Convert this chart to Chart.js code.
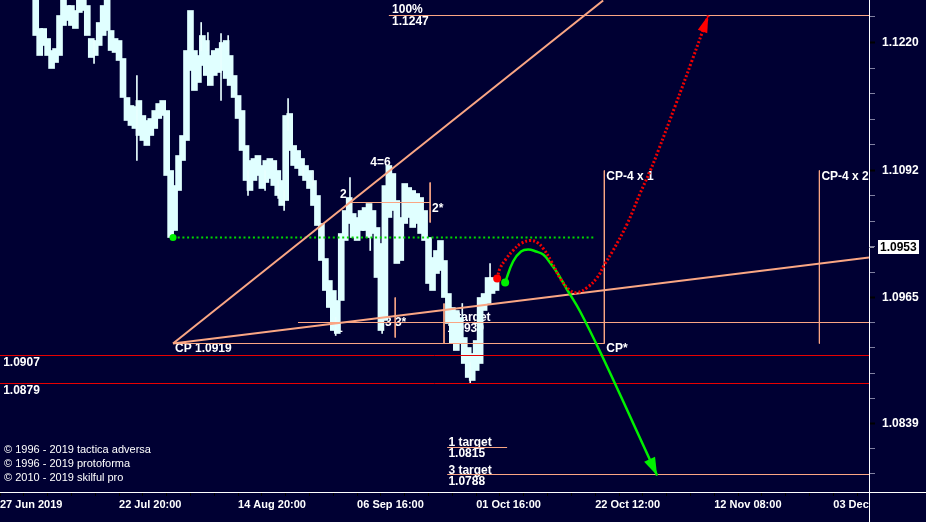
<!DOCTYPE html>
<html>
<head>
<meta charset="utf-8">
<script src="https://cdn.jsdelivr.net/npm/chart.js@4.4.1/dist/chart.umd.min.js"></script>
<style>
  html, body { margin: 0; padding: 0; background: #000033; }
  canvas { display: block; }
</style>
</head>
<body>
<canvas id="chart" width="926" height="522"></canvas>
<script>
// x axis counts 4h bars from 27 Jun, a date label every 30 bars
const xLabels = ['27 Jun 2019', '22 Jul 20:00', '14 Aug 20:00', '06 Sep 16:00',
                 '01 Oct 16:00', '22 Oct 12:00', '12 Nov 08:00', '03 Dec 04:00'];
const yLabels = ['1.1220', '1.1092', '1.0965', '1.0839'];

// EURUSD bars, first one is bar 9
const barStart = 9;
const barHigh = [
  1.1267, 1.1234, 1.1234, 1.1224, 1.1212, 1.1214, 1.1247, 1.1265, 1.1257, 1.1257,
  1.1252, 1.1265, 1.1265, 1.1257, 1.1224, 1.1222, 1.1240, 1.1257, 1.1265, 1.1232,
  1.1224, 1.1222, 1.1204, 1.1165, 1.1157, 1.1156, 1.1162, 1.1147, 1.1142, 1.1144,
  1.1152, 1.1159, 1.1162, 1.1152, 1.1092, 1.1077, 1.1107, 1.1127, 1.1212, 1.1252,
  1.1212, 1.1207, 1.1227, 1.1222, 1.1207, 1.1212, 1.1214, 1.1220, 1.1222, 1.1207,
  1.1187, 1.1167, 1.1152, 1.1117, 1.1102, 1.1104, 1.1107, 1.1097, 1.1102, 1.1104,
  1.1102, 1.1092, 1.1082, 1.1147, 1.1149, 1.1117, 1.1112, 1.1104, 1.1097, 1.1092,
  1.1082, 1.1067, 1.1039, 1.1004, 1.0982, 1.0972, 1.0962, 1.1029, 1.1052, 1.1065,
  1.1049, 1.1045, 1.1052, 1.1055, 1.1059, 1.1052, 1.1035, 1.1019, 1.1077, 1.1097,
  1.1089, 1.1062, 1.1045, 1.1079, 1.1075, 1.1072, 1.1069, 1.1065, 1.1052, 1.1025,
  1.1005, 1.1012, 1.1022, 1.1002, 1.0969, 1.0955, 1.0952, 1.0945, 1.0925, 1.0915,
  1.0909, 1.0922, 1.0965, 1.0969, 1.0985, 1.0985, 1.0982
];
const barLow = [
  1.1227, 1.1207, 1.1217, 1.1207, 1.1194, 1.1200, 1.1207, 1.1237, 1.1242, 1.1237,
  1.1234, 1.1250, 1.1252, 1.1227, 1.1205, 1.1207, 1.1217, 1.1227, 1.1232, 1.1212,
  1.1210, 1.1202, 1.1165, 1.1142, 1.1137, 1.1134, 1.1127, 1.1122, 1.1117, 1.1127,
  1.1134, 1.1144, 1.1147, 1.1087, 1.1025, 1.1032, 1.1072, 1.1102, 1.1122, 1.1192,
  1.1172, 1.1180, 1.1197, 1.1187, 1.1177, 1.1187, 1.1190, 1.1192, 1.1184, 1.1177,
  1.1165, 1.1144, 1.1112, 1.1082, 1.1072, 1.1082, 1.1087, 1.1074, 1.1080, 1.1084,
  1.1077, 1.1067, 1.1057, 1.1062, 1.1112, 1.1097, 1.1094, 1.1087, 1.1082, 1.1074,
  1.1057, 1.1037, 1.1002, 1.0972, 1.0955, 1.0932, 1.0929, 1.0962, 1.1022, 1.1039,
  1.1025, 1.1022, 1.1032, 1.1032, 1.1025, 1.1029, 1.0985, 1.0932, 1.0942, 1.1045,
  1.1052, 1.0999, 1.1002, 1.1039, 1.1045, 1.1035, 1.1039, 1.1029, 1.1022, 1.0979,
  1.0972, 1.0989, 1.0992, 1.0965, 1.0939, 1.0919, 1.0912, 1.0919, 1.0899, 1.0885,
  1.0882, 1.0892, 1.0899, 1.0952, 1.0959, 1.0969, 1.0972
];

// thin spikes sticking out of the bodies
const wickAt   = [23.7, 34.5, 50.7, 52.4, 55.7, 57.5, 62.5, 66.8, 70.1, 71.6,
                  72.6, 76.4, 78.9, 84.6, 88.2, 93.3, 96.3, 116.5, 118.5, 123.5];
const wickHigh = [1.1222, 1.1187, 1.1240, 1.1230, 1.1229, 1.1227, 1.1092, 1.1092, 1.1082, 1.1072,
                  1.1164, 1.1099, 1.1092, 1.0945, 1.1085, 1.1032, 1.0942, 1.0959, 1.0900, 1.0999];
const wickLow  = [1.1199, 1.1102, 1.1212, 1.1212, 1.1162, 1.1212, 1.1067, 1.1072, 1.1064, 1.1052,
                  1.1132, 1.1087, 1.1077, 1.0927, 1.1062, 1.1012, 1.0929, 1.0945, 1.0879, 1.0982];

// construction lines: [bar1, price1, bar2, price2]
const trendLines = [
  [43.6, 1.0919, 152, 1.1262],
  [43.6, 1.0919, 219, 1.1005]
];
// horizontal levels: [fromBar, toBar, price]
const levelLines = [
  [98, 219, 1.1247],
  [43.6, 152.3, 1.0919],
  [88.2, 108.4, 1.1060],
  [75.1, 219, 1.0940],
  [112.7, 127.8, 1.0815],
  [112.7, 219, 1.0788]
];
// vertical marks: [bar, fromPrice, toPrice]
const markLines = [
  [108.4, 1.1080, 1.1040],
  [99.6, 1.0965, 1.0925],
  [111.9, 1.0959, 1.0919],
  [152.3, 1.1092, 1.0919],
  [206.5, 1.1092, 1.0919]
];
const redLevels = [1.0907, 1.0879];
const greenLevel = [43.6, 150, 1.1025];

// projected paths
const greenBars   = [127.3, 129.3, 131.3, 133.1, 135.1, 136.9, 138.6, 140.4, 142.9, 146.2, 151.8, 159.6, 165.6];
const greenPrices = [1.0980, 1.1001, 1.1011, 1.1013, 1.1011, 1.1008, 1.1000, 1.0990, 1.0973, 1.0951, 1.0906, 1.0839, 1.0787];
const redBars   = [125.3, 126.0, 127.6, 129.3, 131.3, 133.6, 135.4, 136.9, 139.1, 141.2, 143.7, 145.5,
                   148.0, 150.5, 152.5, 154.5, 158.1, 161.3, 163.9, 165.9, 170.2, 174.4, 178.5];
const redPrices = [1.0984, 1.0994, 1.1004, 1.1012, 1.1019, 1.1022, 1.1020, 1.1014, 1.1000, 1.0984, 1.0972, 1.0970,
                   1.0975, 1.0985, 1.0999, 1.1012, 1.1039, 1.1069, 1.1092, 1.1112, 1.1157, 1.1202, 1.1247];

// chart notes: [text, bar, price]
const notes = [
  ['100%', 98.8, 1.12525], ['1.1247', 98.8, 1.12405],
  ['4=6', 93.3, 1.1100], ['2', 85.7, 1.10675], ['2*', 108.9, 1.1054],
  ['1', 84.7, 1.0934], ['3 3*', 97.0, 1.0940],
  ['2 target', 112.7, 1.0945], ['1.0939', 112.7, 1.0934],
  ['CP 1.0919', 44.1, 1.0914], ['CP*', 152.8, 1.0914],
  ['CP-4 x 1', 152.8, 1.1086], ['CP-4 x 2', 207, 1.1086],
  ['1.0907', 0.8, 1.0900], ['1.0879', 0.8, 1.0872],
  ['1 target', 113, 1.08195], ['1.0815', 113, 1.0809],
  ['3 target', 113, 1.0792], ['1.0788', 113, 1.07805]
];
const credits = ['© 1996 - 2019 tactica adversa', '© 1996 - 2019 protoforma', '© 2010 - 2019 skilful pro'];
const lastPrice = '1.0953';
const lastPriceAt = 1.1016;

const BG = '#000033';
const SALMON = '#FAA684';
const FONT = '"Liberation Sans", Arial, sans-serif';

function lineSet(points, color, width, dash) {
  return {
    type: 'line', data: points, borderColor: color, borderWidth: width,
    borderDash: dash || [], pointRadius: 0, tension: 0, fill: false, order: 1
  };
}

const datasets = [];
datasets.push({
  type: 'bar', order: 5, grouped: false, barThickness: 6,
  backgroundColor: '#E0FFFF',
  data: barHigh.map((h, k) => ({ x: barStart + k, y: [barLow[k], h] }))
});
datasets.push({
  type: 'bar', order: 4, grouped: false, barThickness: 1,
  backgroundColor: '#E8FFFF',
  data: wickAt.map((x, k) => ({ x: x, y: [wickLow[k], wickHigh[k]] }))
});
redLevels.forEach(p => datasets.push(lineSet([{ x: 0, y: p }, { x: 219, y: p }], '#E80000', 1)));
trendLines.forEach(t => datasets.push(lineSet([{ x: t[0], y: t[1] }, { x: t[2], y: t[3] }], SALMON, 2)));
levelLines.forEach(l => datasets.push(lineSet([{ x: l[0], y: l[2] }, { x: l[1], y: l[2] }], SALMON, 1)));
markLines.forEach(m => datasets.push(lineSet([{ x: m[0], y: m[1] }, { x: m[0], y: m[2] }], SALMON, 1)));
datasets.push(lineSet([{ x: greenLevel[0], y: greenLevel[2] }, { x: greenLevel[1], y: greenLevel[2] }], '#00D800', 2, [2, 2.7]));
datasets.push({
  type: 'line', order: 0, showLine: false, pointRadius: 3.5, pointBorderWidth: 0,
  pointBackgroundColor: '#00F000', data: [{ x: greenLevel[0], y: greenLevel[2] }]
});

const redIndex = datasets.length;
datasets.push({
  type: 'line', order: 0, borderColor: '#F00000', borderWidth: 3, borderDash: [2, 2],
  tension: 0.4, fill: false, pointBorderWidth: 0, pointBackgroundColor: '#FF0000',
  pointRadius: c => c.dataIndex === 0 ? 4 : 0,
  data: redBars.map((x, k) => ({ x: x, y: redPrices[k] }))
});
const greenIndex = datasets.length;
datasets.push({
  type: 'line', order: 0, borderColor: '#00F000', borderWidth: 2.5,
  tension: 0.4, fill: false, pointBorderWidth: 0, pointBackgroundColor: '#00F000',
  pointRadius: c => c.dataIndex === 0 ? 4 : 0,
  data: greenBars.map((x, k) => ({ x: x, y: greenPrices[k] }))
});

function arrowHead(ctx, from, tip, len, half, color) {
  const dx = tip.x - from.x, dy = tip.y - from.y, d = Math.hypot(dx, dy);
  const ux = dx / d, uy = dy / d;
  const bx = tip.x - ux * len, by = tip.y - uy * len;
  ctx.beginPath();
  ctx.moveTo(tip.x, tip.y);
  ctx.lineTo(bx - uy * half, by + ux * half);
  ctx.lineTo(bx + uy * half, by - ux * half);
  ctx.closePath();
  ctx.fillStyle = color;
  ctx.fill();
}

const overlay = {
  id: 'overlay',
  beforeDraw(chart) {
    const ctx = chart.ctx;
    ctx.save();
    ctx.fillStyle = BG;
    ctx.fillRect(0, 0, chart.width, chart.height);
    ctx.restore();
  },
  beforeDatasetsDraw(chart) {
    // notes sit under the price bars, as on the terminal
    const ctx = chart.ctx, xs = chart.scales.x, ys = chart.scales.y, area = chart.chartArea;
    ctx.save();
    ctx.fillStyle = '#FFFFFF';
    ctx.textBaseline = 'middle';
    ctx.textAlign = 'left';
    ctx.font = '700 12px ' + FONT;
    notes.forEach(n => ctx.fillText(n[0], xs.getPixelForValue(n[1]), ys.getPixelForValue(n[2])));
    ctx.font = '400 11px ' + FONT;
    credits.forEach((t, k) => ctx.fillText(t, area.left + 4, area.bottom - 42.5 + k * 14));
    ctx.restore();
  },
  afterDatasetsDraw(chart) {
    const ctx = chart.ctx;
    ctx.save();
    const r = chart.getDatasetMeta(redIndex).data;
    arrowHead(ctx, r[r.length - 2], r[r.length - 1], 17, 5, '#FF0000');
    const g = chart.getDatasetMeta(greenIndex).data;
    arrowHead(ctx, g[g.length - 2], g[g.length - 1], 18, 6, '#00F000');
    ctx.restore();
  },
  afterDraw(chart) {
    const ctx = chart.ctx, ys = chart.scales.y, area = chart.chartArea;
    ctx.save();
    // hide the part of the last date that runs under the price scale
    ctx.fillStyle = BG;
    ctx.fillRect(area.right + 0.5, area.bottom + 1, chart.width - area.right, chart.height - area.bottom);

    ctx.strokeStyle = '#FFFFFF';
    ctx.lineWidth = 1;
    ctx.beginPath();
    ctx.moveTo(area.right + 0.5, 0);
    ctx.lineTo(area.right + 0.5, chart.height);
    ctx.moveTo(0, area.bottom + 0.5);
    ctx.lineTo(chart.width, area.bottom + 0.5);
    ctx.stroke();

    const py = Math.round(ys.getPixelForValue(lastPriceAt));
    ctx.strokeStyle = '#9090A0';
    ctx.beginPath();
    ctx.moveTo(area.right, py + 0.5);
    ctx.lineTo(area.right + 5, py + 0.5);
    ctx.stroke();
    ctx.fillStyle = '#FFFFFF';
    ctx.fillRect(area.right + 9, py - 7, 41, 14);
    ctx.fillStyle = '#000000';
    ctx.textBaseline = 'middle';
    ctx.textAlign = 'left';
    ctx.font = '700 12px ' + FONT;
    ctx.fillText(lastPrice, area.right + 11, py + 0.5);
    ctx.restore();
  }
};

new Chart(document.getElementById('chart'), {
  type: 'bar',
  data: { datasets: datasets },
  plugins: [overlay],
  options: {
    responsive: false,
    animation: false,
    devicePixelRatio: 1,
    layout: { padding: 0, autoPadding: false },
    plugins: { legend: { display: false }, tooltip: { enabled: false } },
    scales: {
      x: {
        type: 'linear', min: 0, max: 219, offset: false,
        afterBuildTicks(s) {
          const t = [];
          for (let v = 0; v <= 216; v += 6) t.push({ value: v });
          s.ticks = t;
        },
        afterFit(s) { s.height = 30; s.paddingLeft = 0; s.paddingRight = 0; },
        ticks: {
          callback: v => (v % 30 === 0 ? xLabels[v / 30] : ''),
          align: 'start', maxRotation: 0, minRotation: 0, autoSkip: false, padding: 2,
          color: '#FFFFFF', font: { family: FONT, size: 11, weight: 'bold' }
        },
        grid: { drawOnChartArea: false, offset: false, tickLength: 4, tickColor: '#000000' },
        border: { display: false }
      },
      y: {
        type: 'linear', position: 'right', min: 1.07705, max: 1.12625, beginAtZero: false,
        afterBuildTicks(s) {
          const v = yLabels.map(Number);
          const t = [];
          t.push({ value: v[0] + (v[0] - v[1]) / 5 });
          for (let k = 0; k < v.length; k++) {
            t.push({ value: v[k], major: true, text: yLabels[k] });
            if (k < v.length - 1) {
              const st = (v[k] - v[k + 1]) / 5;
              for (let m = 1; m < 5; m++) t.push({ value: v[k] - st * m });
            }
          }
          const last = v[v.length - 1], st = (v[v.length - 2] - last) / 5;
          t.push({ value: last - st }, { value: last - 2 * st });
          s.ticks = t;
        },
        afterFit(s) { s.width = 57; s.paddingTop = 0; s.paddingBottom = 0; },
        ticks: {
          callback: (v, i, ticks) => ticks[i].text || '',
          autoSkip: false, padding: 7,
          color: '#FFFFFF', font: { family: FONT, size: 12, weight: 'bold' }
        },
        grid: {
          drawOnChartArea: false, tickLength: 6,
          tickColor: c => (c.tick && c.tick.major ? '#000000' : '#8080A0'),
          tickWidth: c => (c.tick && c.tick.major ? 2 : 1)
        },
        border: { display: false }
      }
    }
  }
});
</script>
</body>
</html>
